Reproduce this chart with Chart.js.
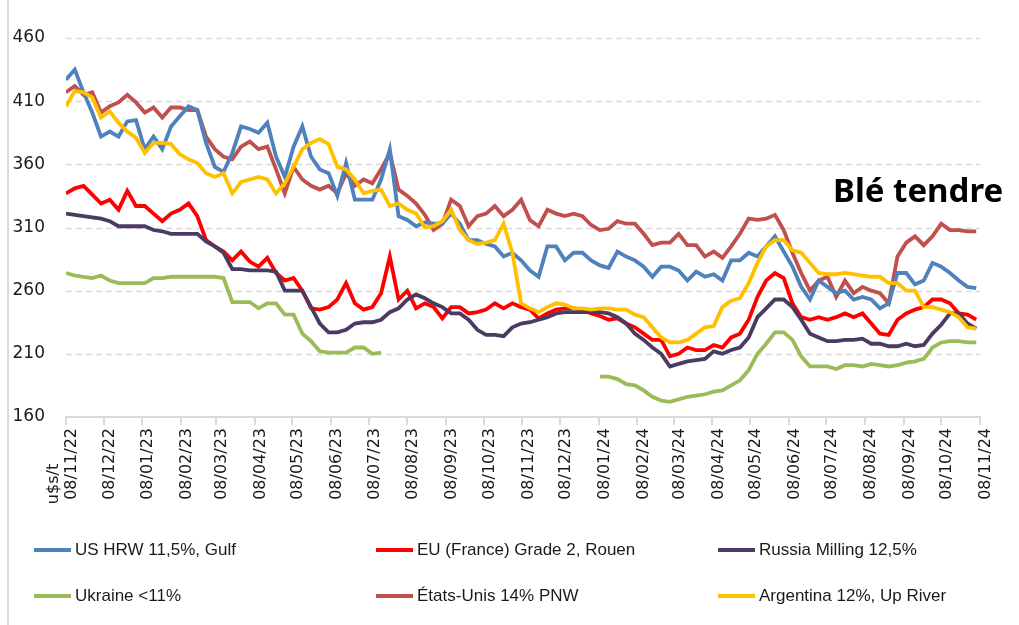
<!DOCTYPE html>
<html>
<head>
<meta charset="utf-8">
<script src="https://cdn.jsdelivr.net/npm/chart.js@4/dist/chart.umd.min.js"></script>
<style>
  body { margin: 0; background: #fff; }
  #wrap { position: relative; width: 1019px; height: 625px; overflow: hidden; }
  #frame { position: absolute; left: 7px; top: 0; width: 2px; height: 625px; background: #d9d9d9; }
  .lg { position: absolute; font-family: "Liberation Sans", sans-serif; font-size: 17px; color: #1a1a1a;
        white-space: nowrap; display: flex; align-items: center; height: 24px; }
  .lg i { display: inline-block; width: 37px; height: 4px; margin-right: 4px; }
</style>
</head>
<body>
<div id="wrap">
  <canvas id="myChart" width="1019" height="625"></canvas>
  <div id="frame"></div>
</div>
<script>
// weekly readings, first week = 08/11/2022
const startDate = '08/11/22';
const tickLabels = ['08/11/22', '08/12/22', '08/01/23', '08/02/23', '08/03/23', '08/04/23', '08/05/23',
  '08/06/23', '08/07/23', '08/08/23', '08/09/23', '08/10/23', '08/11/23', '08/12/23', '08/01/24',
  '08/02/24', '08/03/24', '08/04/24', '08/05/24', '08/06/24', '08/07/24', '08/08/24', '08/09/24',
  '08/10/24', '08/11/24'];
const yTicks = [160, 210, 260, 310, 360, 410, 460];

const seriesNames = ['US HRW 11,5%, Gulf', 'EU (France) Grade 2, Rouen', 'Russia Milling 12,5%',
  'Ukraine <11%', 'États-Unis 14% PNW', 'Argentina 12%, Up River'];
const seriesColors = ['#4f81bd', '#ff0000', '#4b3b63', '#9bbb59', '#c0504d', '#ffc000'];

const usHrw = [427, 435, 417, 401, 382, 386, 382, 394, 395, 372, 382, 372, 390, 398, 406, 403, 377, 358, 354, 369, 390, 388,
  385, 393, 366, 350, 374, 390, 366, 356, 353, 335, 361, 332, 332, 332, 348, 372, 319, 316, 311, 314,
  313, 313, 321, 313, 300, 300, 297, 295, 287, 290, 284, 276, 271, 295, 295, 284, 290, 290, 284, 280,
  278, 291, 287, 284, 279, 271, 279, 279, 276, 268, 275, 271, 273, 268, 284, 284, 290, 287, 295, 303, 291,
  279, 263, 253, 268, 263, 258, 260, 253, 255, 253, 246, 250, 274, 274, 265, 268, 282, 279, 274, 268, 263, 262];
const euFrance = [337, 341, 343, 336, 329, 332, 324, 339, 327, 327, 321, 315, 321, 324, 329, 319, 300, 295, 291, 284, 291, 283,
  279, 286, 274, 268, 270, 260, 246, 245, 247, 253, 266, 250, 245, 247, 258, 287, 253, 260, 246, 250,
  247, 238, 247, 247, 242, 243, 245, 250, 246, 250, 247, 245, 238, 242, 245, 246, 246, 245, 242, 240,
  237, 238, 234, 231, 226, 221, 221, 208, 210, 215, 213, 213, 217, 215, 223, 226, 237, 255, 268, 274, 270,
  250, 239, 237, 239, 237, 239, 242, 239, 242, 234, 226, 225, 237, 242, 245, 247, 253, 253, 250, 242, 241, 237];
const russia = [321, 320, 319, 318, 317, 315, 311, 311, 311, 311, 308, 307, 305, 305, 305, 305, 299, 295, 290, 277, 277, 276,
  276, 276, 275, 260, 260, 260, 247, 234, 227, 227, 229, 234, 235, 235, 237, 243, 246, 253, 257, 254,
  250, 247, 242, 242, 237, 229, 225, 225, 224, 231, 234, 235, 237, 239, 242, 243, 243, 243, 243, 243,
  242, 239, 234, 226, 221, 215, 210, 200, 202, 204, 205, 206, 212, 210, 213, 215, 223, 239, 246, 253, 253,
  247, 237, 226, 223, 220, 220, 221, 221, 222, 218, 218, 216, 216, 218, 216, 217, 226, 233, 242, 242, 234, 230];
const ukraine = [274, 272, 271, 270, 272, 268, 266, 266, 266, 266, 270, 270, 271, 271, 271, 271, 271, 271, 270, 251, 251, 251,
  246, 250, 250, 241, 241, 226, 220, 212, 211, 211, 211, 215, 215, 210, 211,
  null, null, null, null, null, null, null, null, null, null, null, null,
  null, null, null, null, null, null, null, null, null, null, null, null,
  192, 192, 190, 186, 185, 181, 176, 173, 172, 174, 176, 177, 178, 180, 181, 185, 189, 197, 210, 218, 227, 227,
  221, 208, 200, 200, 200, 198, 201, 201, 200, 202, 201, 200, 201, 203, 204, 206, 215, 219, 220, 220, 219, 219];
const usPnw = [417, 422, 415, 417, 401, 406, 409, 415, 409, 401, 405, 397, 405, 405, 403, 403, 382, 372, 366, 364, 374, 378,
  372, 374, 356, 337, 358, 348, 343, 340, 343, 337, 353, 343, 348, 345, 356, 369, 340, 335, 329, 320,
  308, 313, 332, 327, 311, 319, 321, 327, 319, 324, 332, 316, 311, 324, 321, 319, 321, 319, 312, 308,
  309, 315, 313, 313, 305, 296, 298, 298, 305, 296, 296, 287, 291, 286, 295, 305, 317, 316, 317, 320, 308,
  290, 274, 260, 268, 271, 255, 268, 258, 263, 260, 258, 250, 287, 298, 303, 296, 303, 313, 308, 308, 307, 307];
const argentina = [406, 418, 417, 413, 397, 402, 393, 386, 381, 369, 377, 377, 376, 368, 364, 361, 353, 350, 353, 337, 346, 348,
  350, 348, 337, 345, 358, 372, 377, 380, 376, 358, 356, 348, 337, 339, 340, 327, 329, 324, 321, 310,
  311, 315, 324, 308, 300, 297, 298, 300, 313, 290, 250, 246, 243, 247, 250, 249, 246, 246, 245, 246,
  246, 245, 245, 241, 239, 231, 223, 219, 219, 221, 226, 231, 232, 247, 252, 254, 266, 282, 295, 300, 300,
  292, 290, 282, 274, 273, 273, 274, 273, 272, 271, 271, 266, 266, 260, 260, 247, 247, 245, 243, 239, 231, 230];

const seriesValues = [usHrw, euFrance, russia, ukraine, usPnw, argentina];
const drawOrder = [2, 4, 3, 6, 5, 1]; // argentina on top

function toDate(label) {
  const p = label.split('/').map(Number);
  return Date.UTC(2000 + p[2], p[1] - 1, p[0]);
}
const dayMs = 86400000;
const t0 = toDate(startDate);
const tickDays = tickLabels.map(l => Math.round((toDate(l) - t0) / dayMs));

// dashed horizontal grid, drawn under the lines
const dashedGrid = {
  id: 'dashedGrid',
  beforeDatasetsDraw(chart) {
    const c = chart.ctx, a = chart.chartArea, y = chart.scales.y;
    c.save();
    c.strokeStyle = '#d9d9d9';
    c.lineWidth = 1.5;
    c.setLineDash([6, 4]);
    yTicks.forEach(v => {
      if (v === yTicks[0]) return;
      const py = Math.round(y.getPixelForValue(v)) + 0.5;
      c.beginPath();
      c.moveTo(a.left, py);
      c.lineTo(a.right, py);
      c.stroke();
    });
    c.restore();
  }
};

const extraText = {
  id: 'extraText',
  afterDraw(chart) {
    const c = chart.ctx;
    c.save();
    c.fillStyle = '#000';
    c.font = 'bold 33px "Noto Sans"';
    c.textAlign = 'left';
    c.textBaseline = 'alphabetic';
    c.fillText('Blé tendre', 833, 202);
    c.translate(54, 484);
    c.rotate(-Math.PI / 2);
    c.font = '16px "DejaVu Sans"';
    c.textAlign = 'center';
    c.textBaseline = 'middle';
    c.fillStyle = '#1a1a1a';
    c.fillText('u$s/t', 0, 0);
    c.restore();
  }
};

const ctx = document.getElementById('myChart').getContext('2d');
const chart = new Chart(ctx, {
  type: 'line',
  data: {
    datasets: seriesNames.map((name, k) => ({
      label: name,
      data: seriesValues[k].map((v, i) => ({ x: i * 7, y: v })),
      borderColor: seriesColors[k],
      backgroundColor: seriesColors[k],
      borderWidth: 3.8,
      pointRadius: 0,
      tension: 0,
      spanGaps: false,
      order: drawOrder[k]
    }))
  },
  options: {
    responsive: false,
    animation: false,
    layout: { padding: { top: 38, right: 39, left: 0, bottom: 0 } },
    plugins: { legend: { display: false }, tooltip: { enabled: false } },
    scales: {
      x: {
        type: 'linear',
        min: 0,
        max: tickDays[tickDays.length - 1],
        afterBuildTicks: s => { s.ticks = tickDays.map(v => ({ value: v })); },
        afterFit: s => { s.height = 208; },
        ticks: {
          autoSkip: false,
          minRotation: 90,
          maxRotation: 90,
          padding: 3,
          labelOffset: 6,
          color: '#1a1a1a',
          font: { family: 'DejaVu Sans', size: 16 },
          callback: (v, i) => tickLabels[i]
        },
        grid: { drawOnChartArea: false, drawTicks: true, tickLength: 8, color: '#d9d9d9', lineWidth: 2 },
        border: { color: '#d9d9d9', width: 2 }
      },
      y: {
        min: yTicks[0],
        max: yTicks[yTicks.length - 1],
        afterBuildTicks: s => { s.ticks = yTicks.map(v => ({ value: v })); },
        afterFit: s => { s.width = 66; },
        ticks: { padding: 21, color: '#1a1a1a', font: { family: 'DejaVu Sans', size: 17 } },
        grid: { display: false, drawTicks: false },
        border: { display: false }
      }
    }
  },
  plugins: [dashedGrid, extraText]
});

// legend: three columns, two rows
const legendPos = [[34, 538], [376, 538], [718, 538], [34, 584], [376, 584], [718, 584]];
const wrap = document.getElementById('wrap');
seriesNames.forEach((name, k) => {
  const d = document.createElement('div');
  d.className = 'lg';
  d.style.left = legendPos[k][0] + 'px';
  d.style.top = legendPos[k][1] + 'px';
  const sw = document.createElement('i');
  sw.style.background = seriesColors[k];
  d.appendChild(sw);
  d.appendChild(document.createTextNode(name));
  wrap.appendChild(d);
});
</script>
</body>
</html>
